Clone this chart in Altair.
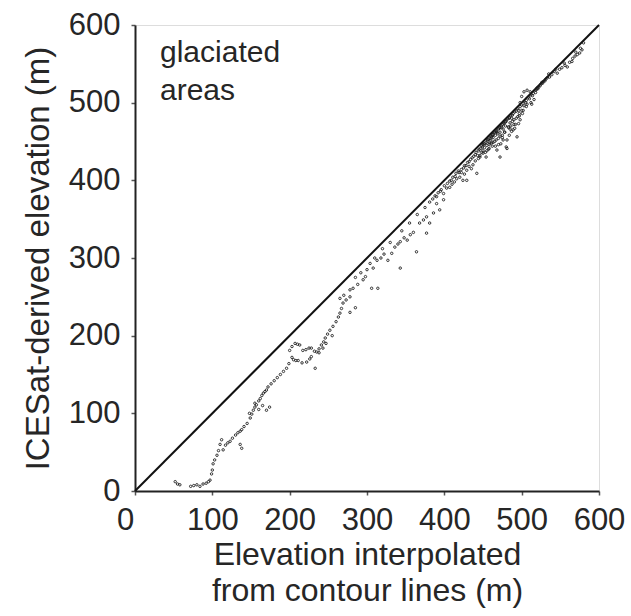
import altair as alt
import pandas as pd

# Elevation interpolated from contour lines (m)
contour_elev = [
    52, 55, 58, 72, 76, 80, 84, 88, 92, 95, 97,
    99, 100, 101, 103, 106, 108, 110, 112, 114, 117, 120, 123, 126, 130, 133, 136, 138, 141, 145,
    149, 151, 153, 155, 157, 160, 162, 164, 166, 168, 170,
    138, 136, 174, 170, 165, 160, 148, 155,
    172, 176, 180, 184, 188, 192, 196, 199,
    200, 203, 207, 210, 213, 217, 221, 225, 228, 232, 235, 238, 241, 244, 246, 249, 252, 256, 260,
    263, 265, 267, 269, 273, 278,
    203, 205, 208, 211, 216, 222, 226, 228, 233, 238, 243, 247, 255, 278, 285,
    265, 270, 278, 282, 288, 295, 298, 300, 304, 306, 308, 313, 314, 318, 322, 327, 332, 336, 340,
    343, 343, 348, 352, 356, 360, 364, 368, 373, 377, 377, 381, 381, 386, 390, 390, 394, 399, 399,
    285, 292, 310, 320, 330, 345, 355, 365, 375, 385, 395,
    403, 407, 410, 413, 416, 420, 422, 424, 426, 429, 432, 435, 437, 440, 442, 444, 446, 448, 450,
    452, 454, 455, 457, 459, 460, 462, 463, 465, 466, 468, 469, 470, 472, 473, 475, 476, 478, 479,
    481, 481, 483, 485, 487, 489, 490, 492, 494, 495, 497, 498, 500, 502, 503, 505,
    448, 451, 456, 461, 464, 467, 471, 474, 477, 480, 484, 488, 440, 444, 436, 432, 428, 425, 419,
    414, 409, 453, 458, 461, 470, 476, 484, 486, 491, 496, 480, 472, 429,
    498, 500, 503, 507, 511, 514, 516, 512, 507, 519, 520,
    522, 525, 528, 531, 533, 536, 539, 542, 546, 549, 552, 556, 559, 562, 566, 569, 572, 575, 578,
    580, 576, 570, 565, 555, 544, 535, 526, 518, 510, 506, 513,
    441, 443, 445, 447, 449, 450, 452, 454, 456, 457, 459, 460, 462, 463, 465, 467, 468, 470, 472,
    474, 475, 477, 479, 480, 482, 484, 486, 487, 489, 491, 493, 495, 496, 498, 500, 503, 506, 509,
    512, 515, 518, 521, 524, 527, 530, 458, 463, 467, 472, 478, 483, 488, 493, 497, 501, 466, 475,
    455, 450, 446, 485, 490, 438, 434, 430, 426, 422, 418, 415, 411, 407, 404, 400, 396, 392, 388,
]

# ICESat-derived elevation (m)
icesat_elev = [
    12, 9, 8, 6, 7, 8, 6, 9, 10, 12, 14,
    22, 27, 35, 40, 46, 52, 60, 66, 53, 59, 62, 64, 68, 72, 75, 77, 79, 83, 87,
    94, 99, 104, 108, 111, 116, 119, 123, 126, 128, 130,
    55, 60, 108, 104, 110, 105, 100, 113,
    134, 138, 142, 146, 150, 154, 158, 164,
    181, 186, 190, 189, 188, 181, 182, 184, 184, 180, 179, 183, 188, 192, 197, 202, 207, 212, 218,
    224, 229, 235, 242, 246, 250,
    172, 169, 168, 168, 165, 166, 170, 173, 158, 178, 184, 190, 200, 230, 236,
    248, 252, 259, 261, 266, 272, 276, 285, 293, 261, 287, 297, 261, 300, 305, 297, 306, 314, 318,
    287, 321, 326, 323, 330, 333, 308, 345, 349, 332, 353, 345, 372, 358, 370, 379, 362, 375, 383,
    275, 281, 300, 312, 320, 335, 345, 356, 365, 376, 386,
    390, 391, 395, 398, 402, 404, 410, 400, 408, 413, 418, 415, 420, 425, 409, 428, 432, 436, 438,
    442, 430, 445, 440, 448, 452, 444, 455, 450, 458, 439, 460, 454, 462, 447, 458, 466, 462, 470,
    452, 441, 468, 474, 463, 465, 478, 472, 456, 482, 486, 478, 490, 490, 496, 500,
    445, 447, 450, 456, 461, 463, 467, 470, 474, 476, 480, 484, 433, 438, 429, 424, 419, 416, 410,
    405, 400, 436, 446, 448, 446, 452, 458, 470, 467, 473, 443, 430, 400,
    500, 508, 514, 516, 514, 509, 504, 500, 498, 517, 519,
    520, 524, 527, 530, 532, 533, 536, 540, 538, 543, 545, 548, 546, 552, 557, 560, 562, 564, 568,
    577, 570, 565, 553, 551, 543, 537, 526, 513, 505, 495, 498,
    436, 432, 440, 441, 443, 446, 447, 449, 452, 453, 454, 457, 458, 459, 462, 464, 462, 466, 468,
    468, 472, 473, 475, 478, 479, 481, 483, 480, 486, 488, 489, 492, 490, 495, 497, 501, 503, 507,
    510, 512, 516, 518, 522, 525, 528, 441, 449, 452, 457, 462, 469, 476, 480, 483, 486, 444, 455,
    438, 435, 430, 466, 472, 431, 427, 423, 419, 414, 412, 409, 404, 399, 396, 393, 388, 384, 380,
]

ref_line = [0, 600]
tick_values = [0, 50, 100, 150, 200, 250, 300, 350, 400, 450, 500, 550, 600]
annotation = ["glaciated", "areas"]
x_title = ["Elevation interpolated", "from contour lines (m)"]
y_title = "ICESat-derived elevation (m)"

pts = pd.DataFrame({"x": contour_elev, "y": icesat_elev})
line_df = pd.DataFrame({"x": ref_line, "y": ref_line})

FONT = "Liberation Sans"
TXT = "#262626"

x_scale = alt.Scale(domain=[0, 600], nice=False)
y_scale = alt.Scale(domain=[0, 600], nice=False)

axis_common = dict(
    values=tick_values,
    labelExpr="datum.value % 100 == 0 ? datum.label : ''",
    grid=False,
    tickSize=4,
    tickWidth=1.5,
    tickColor="#555555",
    domainColor="#222222",
    domainWidth=2,
    labelFont=FONT,
    labelFontSize=31,
    labelColor=TXT,
    labelFlush=False,
    labelOverlap=False,
    titleFont=FONT,
    titleFontWeight="normal",
    titleColor=TXT,
)

x_axis = alt.Axis(
    title=x_title,
    labelPadding=10,
    labelOffset={"condition": {"test": "datum.value == 0", "value": -10}, "value": 0},
    titlePadding=4,
    titleFontSize=32,
    titleLineHeight=36,
    **axis_common,
)
y_axis = alt.Axis(title=y_title, labelPadding=11, titlePadding=13, titleFontSize=33, **axis_common)

points = alt.Chart(pts).mark_point(
    shape="circle", filled=False, size=6, strokeWidth=1, color="#1e1e1e", opacity=0.9
).encode(
    x=alt.X("x:Q", scale=x_scale, axis=x_axis),
    y=alt.Y("y:Q", scale=y_scale, axis=y_axis),
)

line = alt.Chart(line_df).mark_line(color="#111111", strokeWidth=2).encode(
    x=alt.X("x:Q", scale=x_scale),
    y=alt.Y("y:Q", scale=y_scale),
)

label = alt.Chart(pd.DataFrame({"t": [0]})).mark_text(
    text=annotation,
    align="left",
    baseline="alphabetic",
    font=FONT,
    fontSize=30,
    lineHeight=38,
    color=TXT,
).encode(x=alt.value(25), y=alt.value(37))

chart = alt.layer(line, points, label).properties(
    width=464,
    height=466,
    autosize=alt.AutoSizeParams(type="none"),
    padding={"left": 135, "top": 25, "right": 32, "bottom": 125},
).configure_view(stroke="#4a4a4a", strokeWidth=2).configure(background="white")

chart.save("out.html", embed_options={"renderer": "svg", "actions": False})
